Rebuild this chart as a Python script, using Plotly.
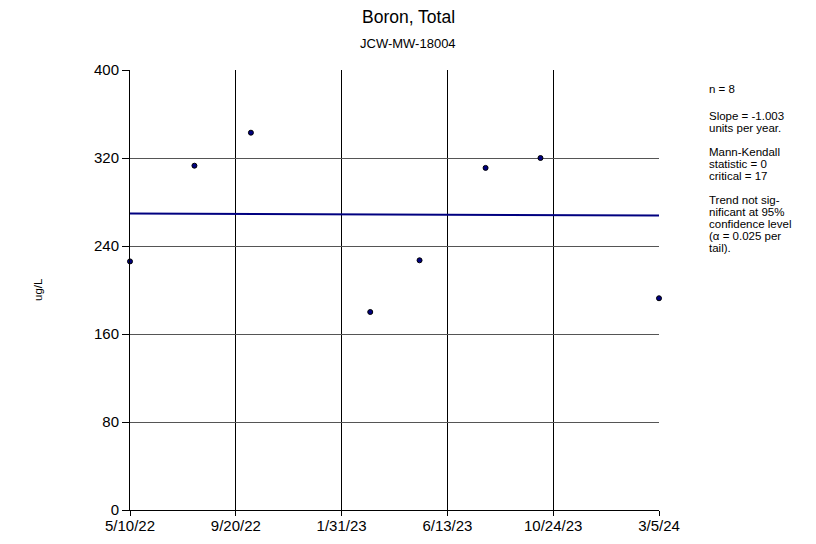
import plotly.graph_objects as go

dates = ["2022-05-10", "2022-07-30", "2022-10-09", "2023-03-08",
         "2023-05-09", "2023-07-31", "2023-10-08", "2024-03-05"]
values = [226, 313, 343, 180, 227, 311, 320, 192.5]

trend_dates = ["2022-05-10", "2024-03-05"]
trend_values = [269.5, 267.7]

tick_dates = ["2022-05-10", "2022-09-20", "2023-01-31", "2023-06-13", "2023-10-24", "2024-03-05"]
tick_labels = ["5/10/22", "9/20/22", "1/31/23", "6/13/23", "10/24/23", "3/5/24"]

y_ticks = [0, 80, 160, 240, 320, 400]

stats_lines = [
    ("n = 8", 89),
    ("Slope = -1.003", 116), ("units per year.", 128),
    ("Mann-Kendall", 152), ("statistic = 0", 164), ("critical = 17", 176),
    ("Trend not sig-", 200), ("nificant at 95%", 212), ("confidence level", 224),
    ("(α = 0.025 per", 236), ("tail).", 248),
]

# page has an 8px body margin; figure drawn at (8, 8)
OFF = 8
W, H = 816 - 2 * OFF, 544 - OFF
PL, PR, PT, PB = 130, 659, 70, 510  # plot area in page pixels
L, R, T, B = PL - OFF, W - (PR - OFF), PT - OFF, H - (PB - OFF)
plot_w = PR - PL
plot_h = PB - PT

FONT = "Arial, Liberation Sans, sans-serif"


def px(xp):
    return (xp - PL) / plot_w


def py(yp):
    return (PB - yp) / plot_h


fig = go.Figure()
fig.add_trace(go.Scatter(x=trend_dates, y=trend_values, mode="lines",
                         line=dict(color="#000080", width=2), hoverinfo="skip"))
fig.add_trace(go.Scatter(x=dates, y=values, mode="markers",
                         marker=dict(color="#000080", size=5, line=dict(color="black", width=1)),
                         cliponaxis=False))

annotations = []
for txt, yy in stats_lines:
    annotations.append(dict(
        text=txt, xref="paper", yref="paper",
        x=px(707), y=py(yy),
        xanchor="left", yanchor="middle", showarrow=False,
        font=dict(family=FONT, size=11.5, color="black"),
        align="left"))
annotations.append(dict(
    text="Boron, Total", xref="paper", yref="paper",
    x=px(408), y=py(17),
    xanchor="center", yanchor="middle", showarrow=False,
    font=dict(family=FONT, size=17.5, color="black")))
annotations.append(dict(
    text="JCW-MW-18004", xref="paper", yref="paper",
    x=px(408), y=py(43),
    xanchor="center", yanchor="middle", showarrow=False,
    font=dict(family=FONT, size=13, color="black")))
annotations.append(dict(
    text="ug/L", xref="paper", yref="paper",
    x=px(38), y=py(290),
    xanchor="center", yanchor="middle", showarrow=False, textangle=-90,
    font=dict(family=FONT, size=11.5, color="black")))

fig.update_layout(
    width=W, height=H,
    margin=dict(l=L, r=R, t=T, b=B),
    paper_bgcolor="white", plot_bgcolor="white",
    showlegend=False,
    font=dict(family=FONT, color="black"),
    annotations=annotations,
    xaxis=dict(
        type="date", range=[tick_dates[0], tick_dates[-1]],
        tickvals=tick_dates, ticktext=tick_labels, automargin=False,
        showgrid=True, gridcolor="black", gridwidth=1,
        showline=True, linecolor="black", linewidth=1,
        ticks="outside", ticklen=5, tickcolor="black", ticklabelstandoff=-3,
        tickfont=dict(size=15), zeroline=False, fixedrange=True),
    yaxis=dict(
        range=[0, 400], tickvals=y_ticks, automargin=False,
        showgrid=True, gridcolor="#555555", gridwidth=1.3,
        showline=True, linecolor="black", linewidth=1,
        ticks="outside", ticklen=7, tickcolor="black",
        tickfont=dict(size=15), zeroline=False, fixedrange=True),
)

fig.write_html("out.html")
